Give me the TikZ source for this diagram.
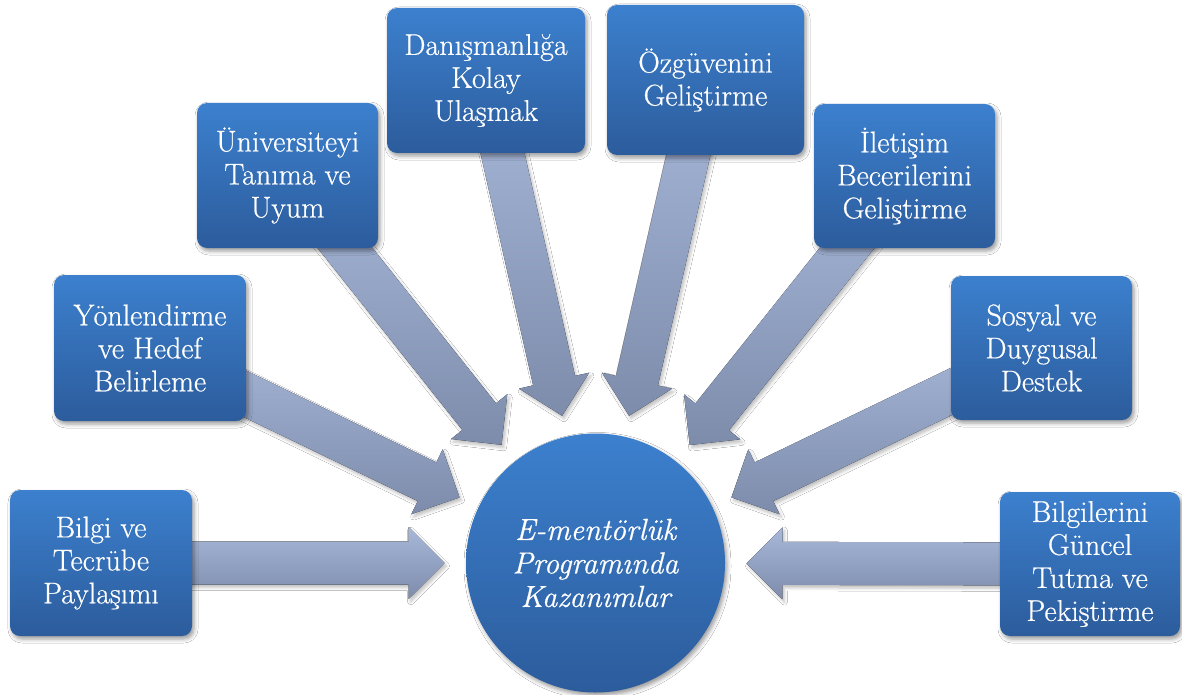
\documentclass[tikz,border=0pt]{standalone}
\usepackage{fontspec}
\setmainfont{Latin Modern Roman}[UprightFeatures={FakeBold=0.6}, ItalicFeatures={FakeBold=0.6}]
\usetikzlibrary{calc,shadows.blur}
\pgfdeclarelayer{background}
\pgfsetlayers{background,main}

\definecolor{boxtop}{RGB}{60,128,206}
\definecolor{boxbot}{RGB}{44,92,156}
\definecolor{arrtop}{RGB}{168,184,217}
\definecolor{arrbot}{RGB}{125,140,171}

\tikzset{
  gainbox/.style={rectangle, rounded corners=10pt, top color=boxtop, bottom color=boxbot,
    text=white, align=center, inner sep=0pt,
    font=\fontsize{30}{33}\selectfont,
    blur shadow={shadow xshift=2pt, shadow yshift=-3pt, shadow blur radius=4pt, shadow opacity=40}},
  hub/.style={circle, minimum size=259pt, inner sep=0pt, top color=boxtop, bottom color=boxbot,
    text=white, align=center, font=\itshape\fontsize{30.5}{33.5}\selectfont,
    blur shadow={shadow xshift=2pt, shadow yshift=-3pt, shadow blur radius=4pt, shadow opacity=40}},
  bigarrow/.style={top color=arrtop, bottom color=arrbot,
    blur shadow={shadow xshift=2pt, shadow yshift=-3pt, shadow blur radius=3pt, shadow opacity=25}},
}

\begin{document}
\begin{tikzpicture}[x=1pt, y=-1pt]
  \useasboundingbox (0,0) rectangle (1182,695);

  % central hub
  \node[hub] (hub) at (595.5,563) {E-mentörlük\\Programında\\Kazanımlar};

  % the eight gains
  \node[gainbox, minimum width=182pt, minimum height=146pt] (b1) at (101,563)    {Bilgi ve\\Tecrübe\\Paylaşımı};
  \node[gainbox, minimum width=192pt, minimum height=146pt] (b2) at (150,348)    {Yönlendirme\\ve Hedef\\Belirleme};
  \node[gainbox, minimum width=181pt, minimum height=145pt] (b3) at (287.5,175.5){Üniversiteyi\\Tanıma ve\\Uyum};
  \node[gainbox, minimum width=198pt, minimum height=145pt] (b4) at (486,80.5)   {Danışmanlığa\\Kolay\\Ulaşmak};
  \node[gainbox, minimum width=197pt, minimum height=150pt] (b5) at (705.5,80)   {Özgüvenini\\Geliştirme};
  \node[gainbox, minimum width=181pt, minimum height=144pt] (b6) at (904.5,176)  {İletişim\\Becerilerini\\Geliştirme};
  \node[gainbox, minimum width=181pt, minimum height=144pt] (b7) at (1041.5,348) {Sosyal ve\\Duygusal\\Destek};
  \node[gainbox, minimum width=180pt, minimum height=144pt] (b8) at (1090,564)   {Bilgilerini\\Güncel\\Tutma ve\\Pekiştirme};

  % white page and block arrows from each box towards the hub, behind everything
  \begin{pgfonlayer}{background}
    \fill[white] (0,0) rectangle (1182,695);
    \foreach \src in {b1,b2,b3,b4,b5,b6,b7,b8} {
      \coordinate (tipend) at ($(hub.center)!151pt!(\src.center)$);
      \coordinate (headbase) at ($(tipend)!36pt!(\src.center)$);
      \fill[bigarrow]
        ($(\src.center)!21.5pt!90:(tipend)$) --
        ($(headbase)!21.5pt!90:(tipend)$) --
        ($(headbase)!36pt!90:(tipend)$) --
        (tipend) --
        ($(headbase)!36pt!-90:(tipend)$) --
        ($(headbase)!21.5pt!-90:(tipend)$) --
        ($(\src.center)!21.5pt!-90:(tipend)$) -- cycle;
    }
  \end{pgfonlayer}
\end{tikzpicture}
\end{document}
